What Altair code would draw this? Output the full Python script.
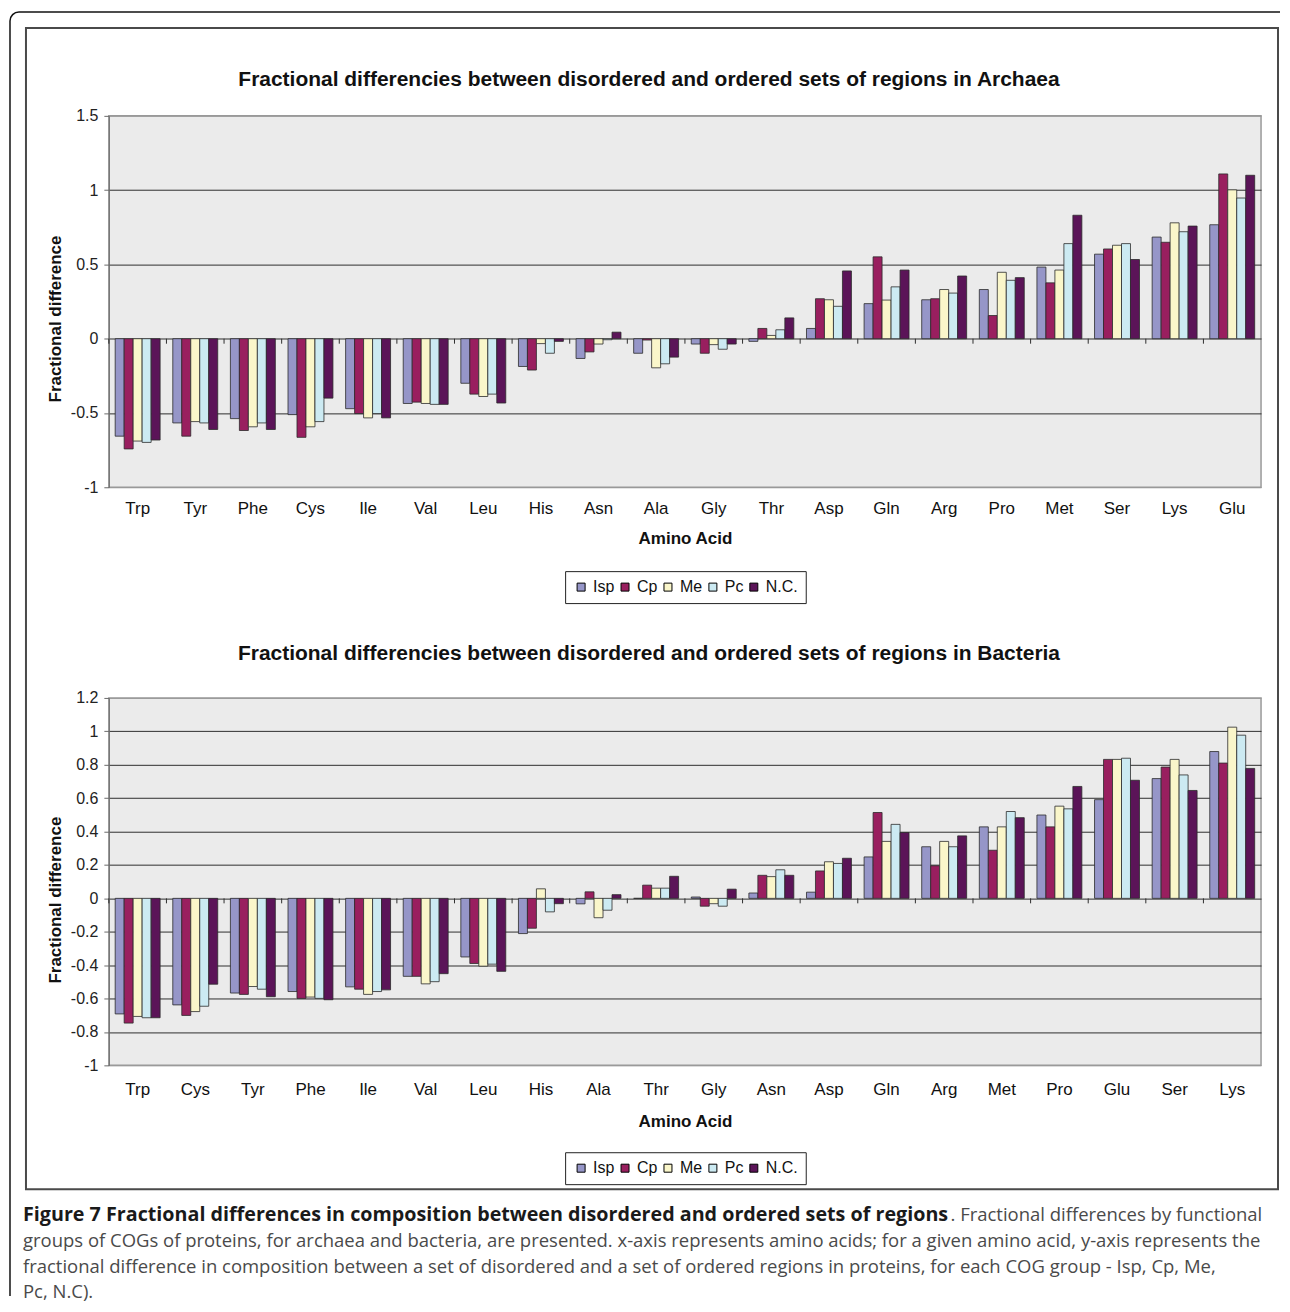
import math
import altair as alt
import pandas as pd

# ---------------- data ----------------
groups = ["Isp", "Cp", "Me", "Pc", "N.C."]
colors = ["#9696C8", "#991F5F", "#FAF6CA", "#CCEAF2", "#5B1458"]

arch_amino = ["Trp", "Tyr", "Phe", "Cys", "Ile", "Val", "Leu", "His", "Asn", "Ala",
              "Gly", "Thr", "Asp", "Gln", "Arg", "Pro", "Met", "Ser", "Lys", "Glu"]
arch_isp = [-0.656, -0.567, -0.538, -0.511, -0.471, -0.436, -0.300, -0.187, -0.133, -0.098,
            -0.036, -0.018, 0.069, 0.236, 0.262, 0.331, 0.482, 0.569, 0.684, 0.767]
arch_cp = [-0.742, -0.656, -0.618, -0.664, -0.504, -0.427, -0.373, -0.211, -0.089, -0.009,
           -0.098, 0.069, 0.269, 0.551, 0.269, 0.156, 0.376, 0.604, 0.649, 1.109]
arch_me = [-0.689, -0.558, -0.593, -0.593, -0.533, -0.436, -0.389, -0.033, -0.036, -0.196,
           -0.040, 0.022, 0.262, 0.260, 0.331, 0.447, 0.462, 0.629, 0.780, 1.002]
arch_pc = [-0.698, -0.567, -0.567, -0.558, -0.504, -0.442, -0.373, -0.098, -0.007, -0.169,
           -0.071, 0.060, 0.218, 0.349, 0.307, 0.393, 0.640, 0.640, 0.720, 0.947]
arch_nc = [-0.682, -0.611, -0.611, -0.400, -0.533, -0.442, -0.433, -0.018, 0.044, -0.124,
           -0.036, 0.140, 0.456, 0.462, 0.422, 0.411, 0.831, 0.533, 0.758, 1.100]
arch_ticks = [-1, -0.5, 0, 0.5, 1, 1.5]

bact_amino = ["Trp", "Cys", "Tyr", "Phe", "Ile", "Val", "Leu", "His", "Ala", "Thr",
              "Gly", "Asn", "Asp", "Gln", "Arg", "Met", "Pro", "Glu", "Ser", "Lys"]
bact_isp = [-0.692, -0.638, -0.567, -0.558, -0.530, -0.467, -0.351, -0.211, -0.033, 0.000,
            0.008, 0.032, 0.037, 0.248, 0.309, 0.428, 0.499, 0.591, 0.717, 0.879]
bact_cp = [-0.747, -0.701, -0.575, -0.599, -0.544, -0.467, -0.390, -0.179, 0.039, 0.079,
           -0.047, 0.138, 0.164, 0.514, 0.195, 0.288, 0.428, 0.832, 0.786, 0.810]
bact_me = [-0.707, -0.678, -0.528, -0.591, -0.575, -0.512, -0.406, 0.057, -0.116, 0.061,
           -0.032, 0.130, 0.219, 0.341, 0.341, 0.428, 0.552, 0.832, 0.832, 1.025]
bact_pc = [-0.715, -0.646, -0.544, -0.599, -0.558, -0.499, -0.394, -0.081, -0.071, 0.061,
           -0.047, 0.171, 0.209, 0.443, 0.309, 0.520, 0.536, 0.839, 0.739, 0.977]
bact_nc = [-0.715, -0.514, -0.589, -0.607, -0.548, -0.451, -0.437, -0.032, 0.022, 0.132,
           0.055, 0.138, 0.240, 0.394, 0.374, 0.483, 0.670, 0.707, 0.646, 0.778]
bact_ticks = [-1, -0.8, -0.6, -0.4, -0.2, 0, 0.2, 0.4, 0.6, 0.8, 1, 1.2]

title_arch = "Fractional differencies between disordered and ordered sets of regions in Archaea"
title_bact = "Fractional differencies between disordered and ordered sets of regions in Bacteria"

cap1_bold = "Figure 7 Fractional differences in composition between disordered and ordered sets of regions"
cap1_rest = ". Fractional differences by functional"
cap2 = ("groups of COGs of proteins, for archaea and bacteria, are presented. x-axis represents "
        "amino acids; for a given amino acid, y-axis represents the")
cap3 = ("fractional difference in composition between a set of disordered and a set of ordered "
        "regions in proteins, for each COG group - Isp, Cp, Me,")
cap4 = "Pc, N.C)."

FONT = "Liberation Sans"
W = 1154
P_IN, P_OUT = 0.22, 0.11


def panel(amino, series, ticks, title, height, label_pad, title_pad, title_y,
          legend_y, ytitle_y):
    rows = []
    for g, vals in zip(groups, series):
        for a, v in zip(amino, vals):
            rows.append({"amino": a, "group": g, "value": v})
    df = pd.DataFrame(rows)
    ymin, ymax = ticks[0], ticks[-1]
    step = W / (len(amino) - P_IN + 2 * P_OUT)
    xscale = alt.Scale(paddingInner=P_IN, paddingOuter=P_OUT)
    grid_col = {"condition": {"test": f"datum.value == {ymax} || datum.value == {ymin}",
                              "value": "#9a9a9a"}, "value": "#2e2e2e"}
    bars = alt.Chart(df).mark_bar(stroke="#2b2b2b", strokeWidth=0.8).encode(
        x=alt.X("amino:N", sort=amino, scale=xscale,
                axis=alt.Axis(title="Amino Acid", labelAngle=0, domain=False, ticks=False,
                              tickSize=0, labelPadding=label_pad, titlePadding=title_pad,
                              labelFont=FONT, labelFontSize=17, labelColor="#111",
                              titleFont=FONT, titleFontSize=17, titleFontWeight="bold",
                              titleColor="#111", grid=False, labelOverlap=False)),
        xOffset=alt.XOffset("group:N", sort=groups),
        y=alt.Y("value:Q", scale=alt.Scale(domain=[ymin, ymax], nice=False),
                axis=alt.Axis(values=ticks, tickCount=len(ticks) + 5,
                              labelExpr="toString(datum.value)",
                              title="Fractional difference", titleX=-53, titleY=ytitle_y,
                              titleBaseline="middle", titleAngle=270,
                              titleFont=FONT, titleFontSize=17, titleFontWeight="bold",
                              titleColor="#111", labelFont=FONT, labelFontSize=16,
                              labelColor="#222", labelPadding=6, tickSize=5,
                              tickColor="#6a6a6a", domainColor="#6a6a6a",
                              gridColor=grid_col, gridWidth=1, labelOverlap=False)),
        color=alt.Color("group:N", sort=groups,
                        scale=alt.Scale(domain=groups, range=colors),
                        legend=alt.Legend(title=None, orient="none", legendX=457,
                                          legendY=legend_y, direction="horizontal",
                                          columns=5, symbolType="square", symbolSize=64,
                                          symbolStrokeColor="#000", symbolStrokeWidth=1,
                                          labelFont=FONT, labelFontSize=16,
                                          labelColor="#111", labelOffset=4,
                                          columnPadding=2, padding=8,
                                          strokeColor="#222")),
    )
    # small category-separator ticks hanging below the zero line
    sep = alt.Chart(pd.DataFrame({"amino": amino})).mark_rule(
        color="#2e2e2e", strokeWidth=1, xOffset=-P_IN * step / 2, y2Offset=5).encode(
        x=alt.X("amino:N", sort=amino, scale=xscale, bandPosition=0),
        y=alt.datum(0), y2=alt.datum(0),
    )
    ttl = alt.Chart(pd.DataFrame({"t": [title]})).mark_text(
        font=FONT, fontSize=21, fontWeight="bold", color="#111", align="center",
        baseline="middle").encode(text="t:N", x=alt.value(649 - 108), y=alt.value(title_y))
    return alt.layer(bars, sep, ttl).properties(
        width=W, height=height,
        view=alt.ViewBackground(fill="#EBEBEB", stroke="#9a9a9a", strokeWidth=1.5),
    )


top = panel(arch_amino, [arch_isp, arch_cp, arch_me, arch_pc, arch_nc], arch_ticks,
            title_arch, 372, 13, 14, 79 - 115, 456, 203)
bottom = panel(bact_amino, [bact_isp, bact_cp, bact_me, bact_pc, bact_nc], bact_ticks,
               title_bact, 368, 16, 16, 654 - 698, 455, 202)

# ---------------- caption panel with frames ----------------
one = pd.DataFrame({"k": [0]})
cb = alt.Chart(one)
OX, OY = 108, 1277  # page position of this panel's origin (for the decorations)


def px(x):
    return x - OX


def py(y):
    return y - OY


layers = []
# inner grey frame
layers.append(cb.mark_rect(fillOpacity=0, stroke="#4a4a4a", strokeWidth=2).encode(
    x=alt.value(px(25)), x2=alt.value(px(1279)), y=alt.value(py(27)), y2=alt.value(py(1190))))
# outer rounded frame (top and left edges with the top-left corner)
layers.append(cb.mark_rule(color="#111", strokeWidth=1.5).encode(
    x=alt.value(px(18)), x2=alt.value(px(1281)), y=alt.value(py(11))))
layers.append(cb.mark_rule(color="#111", strokeWidth=1.5).encode(
    x=alt.value(px(9)), y=alt.value(py(20)), y2=alt.value(py(1297))))
layers.append(cb.mark_arc(radius=9.75, radius2=8.25, theta=1.5 * math.pi, theta2=2 * math.pi,
                          color="#111").encode(x=alt.value(px(18)), y=alt.value(py(20))))

CAPF = "Open Sans"
layers.append(cb.mark_text(text=cap1_bold, align="left", baseline="middle", font=CAPF,
                           fontSize=19.75, fontWeight="bold", color="#1a1a1a").encode(
    x=alt.value(px(22)), y=alt.value(py(1216))))
layers.append(cb.mark_text(text=cap1_rest, align="left", baseline="middle", font=CAPF,
                           fontSize=18.5, color="#4a4a4a").encode(
    x=alt.value(px(951)), y=alt.value(py(1216))))
for txt, yy in [(cap2, 1242), (cap3, 1268), (cap4, 1293)]:
    layers.append(cb.mark_text(text=txt, align="left", baseline="middle", font=CAPF,
                               fontSize=18.5, color="#4a4a4a").encode(
        x=alt.value(px(22)), y=alt.value(py(yy))))

caption = alt.layer(*layers).properties(width=W, height=10)

chart = alt.vconcat(top, bottom, caption, spacing=211, bounds="flush").resolve_scale(
    color="independent").resolve_legend(color="independent").properties(
    padding={"left": 0, "top": 1, "right": 0, "bottom": 0},
    background="white",
).configure_view(stroke="transparent")

chart.save("out.html", embed_options={"renderer": "svg", "actions": False})
